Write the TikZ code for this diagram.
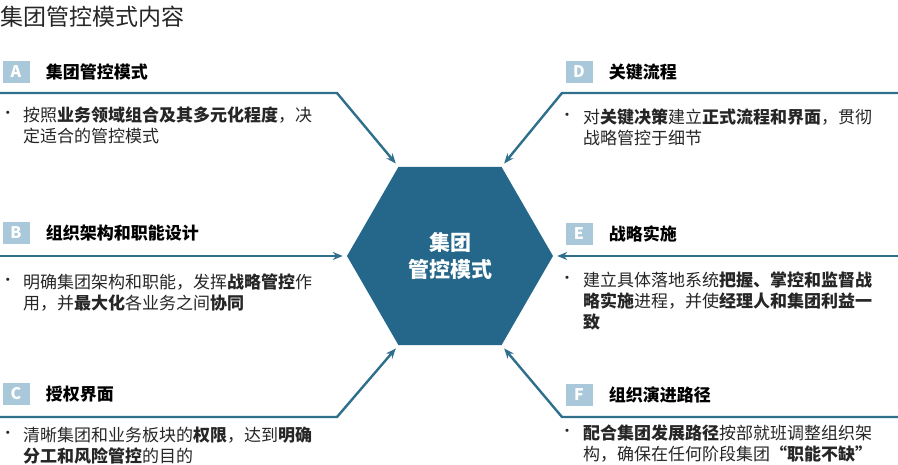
\documentclass[tikz,border=0pt]{standalone}
\usepackage{fontspec}
\setmainfont{Noto Sans CJK SC}
\usetikzlibrary{arrows.meta,shapes.geometric,positioning}
\definecolor{GCTeal}{HTML}{2E6F8C}
\definecolor{GCHex}{HTML}{24678A}
\definecolor{GCTag}{HTML}{A9C8D9}
\definecolor{GCText}{HTML}{262626}

\begin{document}
\begin{tikzpicture}[x=1pt,y=-1pt,
      >={Stealth[length=10pt,width=8pt]},
      link/.style={->,line width=2.4pt,draw=GCTeal,shorten >=4pt},
      core/.style={regular polygon,regular polygon sides=6,
        fill=GCHex,minimum size=206pt,inner sep=0pt,text=white,align=center,
        font=\fontsize{21}{27}\selectfont\bfseries},
      tag/.style={fill=GCTag,text=white,minimum width=27pt,minimum height=22pt,
        inner sep=0pt,font=\fontsize{16}{16}\selectfont\bfseries},
      heading/.style={anchor=west,inner sep=0pt,text=black,
        font=\fontsize{17}{17}\selectfont\bfseries},
      body/.style={anchor=north west,align=left,inner sep=0pt,text=GCText,
        font=\fontsize{17}{21}\selectfont},
      dot/.style={inner sep=0pt,text=GCText,font=\fontsize{15}{15}\selectfont}
    ]
    \useasboundingbox (0,0) rectangle (898,465);

    \node[anchor=west,inner sep=0pt,text=GCText,font=\fontsize{23}{23}\selectfont]
      (title) at (0,17) {集团管控模式内容};

    \node[core] (hub) at (450,256) {集团\\管控模式};

    % left column
    \node[tag] (tagA) at (16,72) {A};
    \node[heading,right=16pt of tagA] (headA) {集团管控模式};
    \node[dot] (dotA) at (8,115) {•};
    \node[body] (bodyA) at (23,107)
      {按照\textbf{业务领域组合及其多元化程度}，决\\定适合的管控模式};

    \node[tag] (tagB) at (16,233) {B};
    \node[heading,right=16pt of tagB] (headB) {组织架构和职能设计};
    \node[dot] (dotB) at (8,282) {•};
    \node[body] (bodyB) at (23,274)
      {明确集团架构和职能，发挥\textbf{战略管控}作\\用，并\textbf{最大化}各业务之间\textbf{协同}};

    \node[tag] (tagC) at (16,394) {C};
    \node[heading,right=16pt of tagC] (headC) {授权界面};
    \node[dot] (dotC) at (8,435) {•};
    \node[body] (bodyC) at (23,427)
      {清晰集团和业务板块的\textbf{权限}，达到\textbf{明确}\\\textbf{分工和风险管控}的目的};

    % right column
    \node[tag] (tagD) at (579,72) {D};
    \node[heading,right=16pt of tagD] (headD) {关键流程};
    \node[dot] (dotD) at (567,117) {•};
    \node[body] (bodyD) at (583,109)
      {对\textbf{关键决策}建立\textbf{正式流程和界面}，贯彻\\战略管控于细节};

    \node[tag] (tagE) at (579,234) {E};
    \node[heading,right=16pt of tagE] (headE) {战略实施};
    \node[dot] (dotE) at (567,280) {•};
    \node[body] (bodyE) at (583,272)
      {建立具体落地系统\textbf{把握、掌控和监督战}\\\textbf{略实施}进程，并使\textbf{经理人和集团利益一}\\\textbf{致}};

    \node[tag] (tagF) at (579,395) {F};
    \node[heading,right=16pt of tagF] (headF) {组织演进路径};
    \node[dot] (dotF) at (567,433) {•};
    \node[body] (bodyF) at (583,425)
      {\textbf{配合集团发展路径}按部就班调整组织架\\构，确保在任何阶段集团\textbf{“职能不缺”}};

    % connectors into the hexagon
    \coordinate (A-in) at (0,93);
    \coordinate (A-bend) at (337,93);
    \coordinate (B-in) at (0,256);
    \coordinate (C-in) at (0,417);
    \coordinate (C-bend) at (337,417);
    \coordinate (D-in) at (898,93);
    \coordinate (D-bend) at (562,93);
    \coordinate (E-in) at (898,256);
    \coordinate (F-in) at (898,417);
    \coordinate (F-bend) at (562,417);

    \draw[link] (A-in) -- (A-bend) -- (hub.corner 2);
    \draw[link] (B-in) -- (hub.corner 3);
    \draw[link] (C-in) -- (C-bend) -- (hub.corner 4);
    \draw[link] (D-in) -- (D-bend) -- (hub.corner 1);
    \draw[link] (E-in) -- (hub.corner 6);
    \draw[link] (F-in) -- (F-bend) -- (hub.corner 5);
  \end{tikzpicture}
\end{document}
